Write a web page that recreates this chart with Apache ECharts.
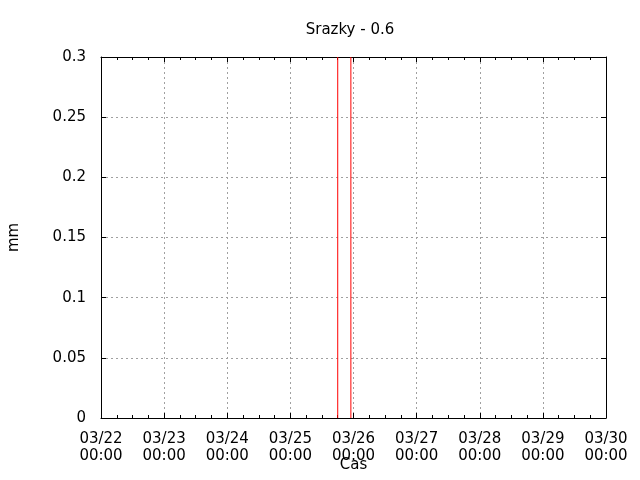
<!DOCTYPE html>
<html>
<head>
<meta charset="utf-8">
<script src="https://cdn.jsdelivr.net/npm/echarts@6/dist/echarts.min.js"></script>
<style>html,body{margin:0;padding:0;background:#fff;}#c{width:640px;height:480px;}</style>
</head>
<body>
<div id="c"></div>
<script>
// Data
var titleText = 'Srazky - 0.6';
var xTickLabels = ['03/22\n00:00','03/23\n00:00','03/24\n00:00','03/25\n00:00','03/26\n00:00','03/27\n00:00','03/28\n00:00','03/29\n00:00','03/30\n00:00'];
var impulseHours = [90, 95];      // hours since 03/22 00:00
var impulseValues = [0.3, 0.3];   // mm
var yMin = 0, yMax = 0.3, yStep = 0.05;
var hoursPerDay = 24;

var font = 'DejaVu Sans';
var fs = 15;
var chart = echarts.init(document.getElementById('c'), null, {renderer: 'canvas'});

var seriesData = impulseHours.map(function (h, i) { return [h, impulseValues[i]]; });

var gridColor = '#a0a0a0';
function xAx(pos, showLabel) {
  return {
    type: 'value', position: pos,
    min: 0, max: (xTickLabels.length - 1) * hoursPerDay, interval: hoursPerDay,
    name: showLabel ? 'Cas' : '', nameLocation: 'middle', nameGap: 40, nameMoveOverlap: false,
    nameTextStyle: {fontFamily: font, fontSize: fs, color: '#000'},
    axisLine: {show: true, onZero: false, lineStyle: {color: '#000', width: 1}},
    axisTick: {show: true, inside: true, length: 5, lineStyle: {color: '#000'}},
    minorTick: {show: true, splitNumber: 4, length: 3, lineStyle: {color: '#000'}},
    splitLine: {show: showLabel, lineStyle: {color: gridColor, type: [2, 3], width: 1}},
    axisLabel: {
      show: showLabel, margin: 13, fontFamily: font, fontSize: fs, color: '#000', lineHeight: 17,
      formatter: function (v) { var i = Math.round(v / hoursPerDay); return xTickLabels[i] || ''; }
    }
  };
}
function yAx(pos, showLabel) {
  return {
    type: 'value', position: pos, min: yMin, max: yMax, interval: yStep,
    name: showLabel ? 'mm' : '', nameLocation: 'middle', nameGap: 79, nameMoveOverlap: false,
    nameTextStyle: {fontFamily: font, fontSize: fs, color: '#000'},
    axisLine: {show: true, onZero: false, lineStyle: {color: '#000', width: 1}},
    axisTick: {show: true, inside: true, length: 5, lineStyle: {color: '#000'}},
    splitLine: {show: showLabel, lineStyle: {color: gridColor, type: [2, 3], width: 1}},
    axisLabel: {
      show: showLabel, margin: 15, fontFamily: font, fontSize: fs, color: '#000',
      formatter: function (v) { return String(parseFloat(v.toFixed(4))); }
    }
  };
}

chart.setOption({
  animation: false,
  backgroundColor: '#fff',
  title: {
    text: titleText, left: 345, top: 18, textAlign: 'center',
    textStyle: {fontFamily: font, fontSize: fs, fontWeight: 'normal', color: '#000'}
  },
  grid: {left: 101, right: 34, top: 57, bottom: 62, containLabel: false, outerBoundsMode: 'none'},
  xAxis: [xAx('bottom', true), xAx('top', false)],
  yAxis: [yAx('left', true), yAx('right', false)],
  series: [{
    type: 'bar', xAxisIndex: 0, yAxisIndex: 0,
    barWidth: 1, data: seriesData,
    itemStyle: {color: '#ff0000'}
  }]
});
</script>
</body>
</html>
